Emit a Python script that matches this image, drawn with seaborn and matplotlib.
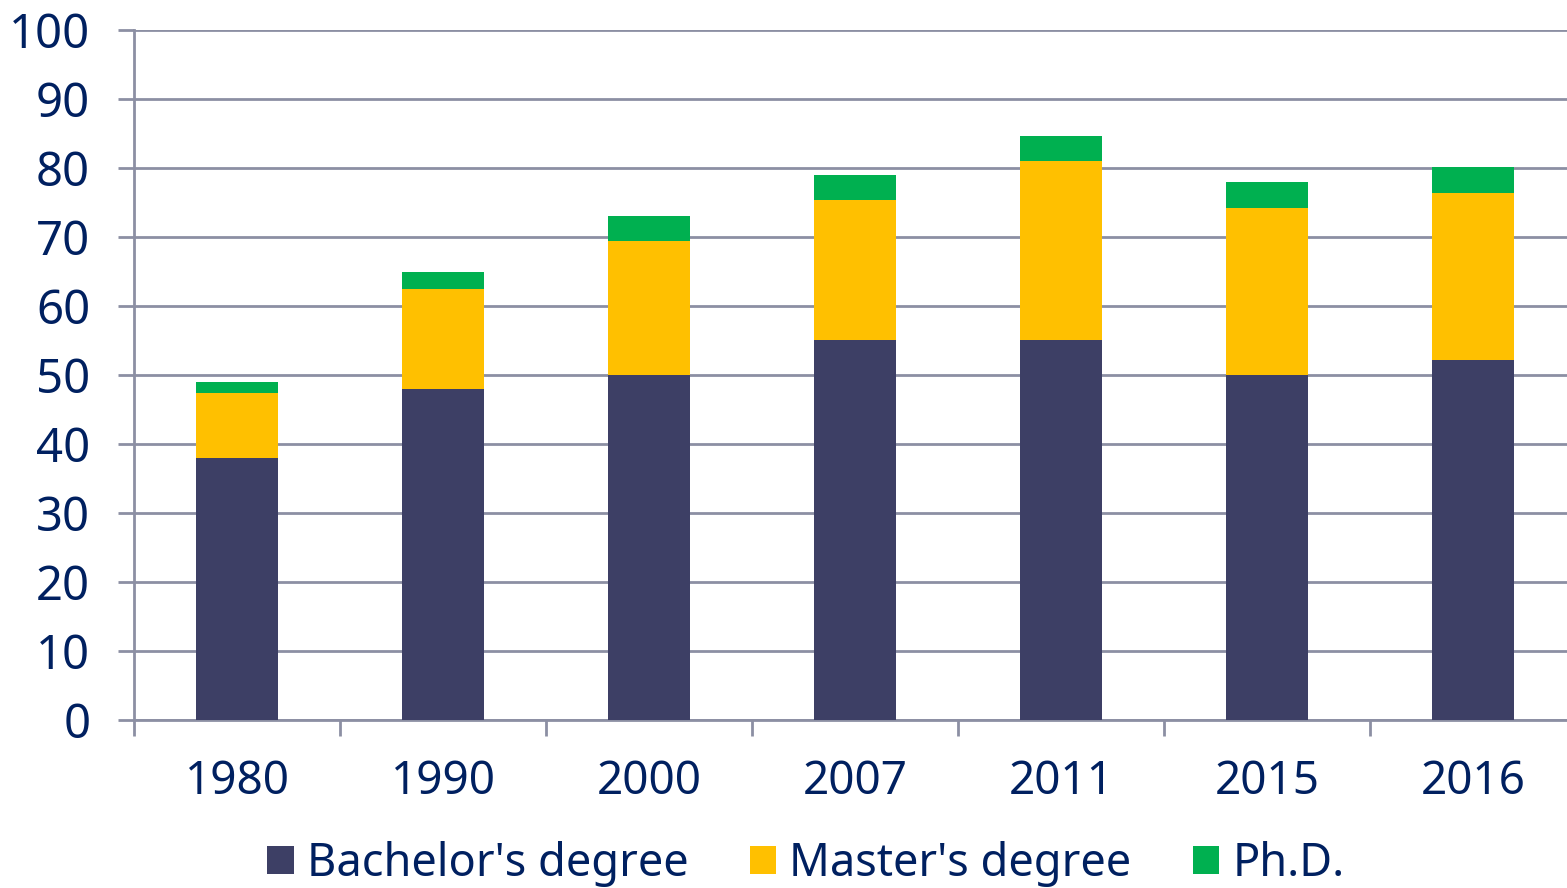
import matplotlib
matplotlib.use("Agg")
import matplotlib.pyplot as plt
import seaborn as sns
import pandas as pd
from matplotlib.patches import Patch

# values (percent)
years = ['1980', '1990', '2000', '2007', '2011', '2015', '2016']
bachelor = [38.0, 48.0, 50.0, 55.0, 55.0, 50.0, 52.2]
master = [9.4, 14.5, 19.4, 20.4, 26.0, 24.2, 24.2]
phd = [1.6, 2.4, 3.6, 3.6, 3.6, 3.8, 3.7]

series_names = ["Bachelor's degree", "Master's degree", "Ph.D."]
colors = ['#3d3f65', '#ffc000', '#00b050']
text_color = '#002060'
grid_color = '#8c8fa3'

df = pd.DataFrame({'year': years, 'bachelor': bachelor, 'master': master, 'phd': phd})
df['to_master'] = df['bachelor'] + df['master']
df['to_phd'] = df['to_master'] + df['phd']

sns.set_style('white')
plt.rcParams['font.family'] = ['Noto Sans', 'DejaVu Sans']

fig = plt.figure(figsize=(15.67, 8.88), dpi=100)
ax = fig.add_axes([134 / 1567, 168 / 888, 1442 / 1567, 690 / 888])

# stacked bars: draw cumulative totals back to front
for col, c in zip(['to_phd', 'to_master', 'bachelor'], colors[::-1]):
    sns.barplot(data=df, x='year', y=col, color=c, saturation=1, width=0.4,
                ax=ax, zorder=3, edgecolor='none')

ax.set_ylim(0, 100)
ax.set_xlim(-0.5, len(years) - 0.5)
ax.set_yticks(range(0, 101, 10))
ax.set_xlabel('')
ax.set_ylabel('')

ax.yaxis.grid(True, color=grid_color, linewidth=2)
ax.set_axisbelow(True)
for side in ['top', 'right']:
    ax.spines[side].set_visible(False)
for side in ['left', 'bottom']:
    ax.spines[side].set_color(grid_color)
    ax.spines[side].set_linewidth(2)

ax.tick_params(axis='y', length=11.5, width=2, color=grid_color, pad=20,
               labelsize=34, labelcolor=text_color, left=True)
ax.tick_params(axis='x', which='major', length=0, pad=28, labelsize=33,
               labelcolor=text_color)
ax.set_xticks([i - 0.5 for i in range(len(years) + 1)], minor=True)
ax.tick_params(axis='x', which='minor', length=11.5, width=2, color=grid_color,
               bottom=True)

handles = [Patch(facecolor=c, edgecolor='none') for c in colors]
fig.legend(handles, series_names, loc='center', bbox_to_anchor=(806 / 1567, 24 / 888),
           ncol=3, frameon=False, fontsize=32.5, labelcolor=text_color,
           handlelength=0.58, handleheight=0.58, handletextpad=0.3,
           columnspacing=1.35, borderaxespad=0)

fig.savefig('out.png', dpi=100)
